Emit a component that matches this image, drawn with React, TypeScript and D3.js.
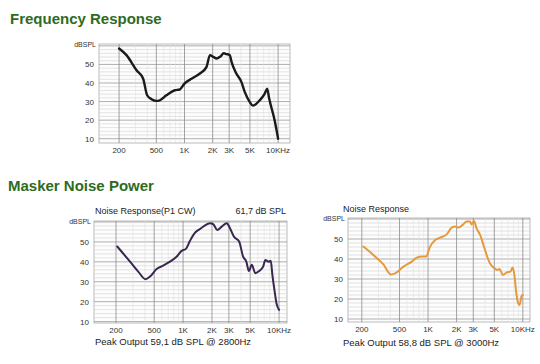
import { line, scaleLog, scaleLinear, curveMonotoneX } from "d3";

const freqTicks = [200, 500, 1000, 2000, 3000, 5000, 10000];
const freqLabels = ["200", "500", "1K", "2K", "3K", "5K", "10KHz"];
const dbTicks = [10, 20, 30, 40, 50];

// Frequency Response
const freq1 = [200, 240, 307, 361, 399, 444, 500, 544, 640, 787, 889, 1000, 1200, 1460, 1720, 1870, 2030, 2200, 2400, 2630, 2810, 3050, 3180, 3580, 4050, 4400, 4970, 5380, 6370, 7200, 7640, 8030, 9180, 10000];
const db1 = [58.6, 55, 46.9, 42.4, 33.4, 31.3, 30.4, 30.7, 33.4, 36.1, 36.5, 39.7, 42.4, 45.1, 48.7, 55, 54.1, 53.2, 54.1, 56, 55.6, 55, 51.4, 45.1, 40.6, 35.2, 29.8, 27.8, 30.7, 34.3, 37, 31.6, 19.9, 10];

// Noise Response (P1 CW)
const freq2 = [206, 280, 341, 406, 452, 530, 620, 730, 855, 966, 1070, 1170, 1320, 1490, 1680, 1900, 2060, 2270, 2530, 2850, 3080, 3380, 3840, 4220, 4560, 4850, 5200, 5660, 6200, 6830, 7200, 7770, 8200, 8520, 9000, 9400, 10000];
const db2 = [47.7, 40.1, 35.1, 31.3, 32.6, 36.4, 38.1, 40.1, 42.6, 45.5, 46.5, 50.2, 54.4, 56.4, 58.2, 59.4, 58.9, 56, 57.7, 59.4, 56.9, 52.7, 50.2, 42.6, 40.1, 35.4, 38.5, 34.3, 35.4, 37.6, 40.9, 40.1, 40.5, 33.4, 25.1, 19.2, 15.9];

// Noise Response
const freq3 = [208, 265, 338, 404, 450, 550, 673, 760, 860, 950, 1050, 1190, 1340, 1570, 1780, 1930, 2090, 2350, 2550, 2760, 2890, 3050, 3250, 3550, 3840, 4150, 4500, 4900, 5400, 5670, 6160, 6760, 7400, 7780, 8100, 8580, 8930, 9270, 9640, 10000];
const db3 = [46.2, 42, 37.3, 32.3, 32.8, 36.2, 38.7, 40.7, 41.2, 41.2, 46.2, 49.5, 50.7, 52.3, 55.7, 56.2, 55.7, 57.3, 58.7, 58.7, 57.3, 59, 55.3, 52, 47, 42, 37.8, 35.7, 34.5, 35, 32, 33.3, 33.7, 35.7, 32.8, 22, 17.8, 17, 21.2, 22];

const minorFreqs = [300, 400, 600, 700, 800, 900, 4000, 6000, 7000, 8000, 9000];
const dbGrid = [10, 12, 14, 16, 18, 20, 22, 24, 26, 28, 30, 32, 34, 36, 38, 40, 42, 44, 46, 48, 50, 52, 54, 56, 58, 60];

const FONT = "'Liberation Sans', Arial, sans-serif";

type ChartProps = {
  left: number;
  right: number;
  top: number;
  bottom: number;
  fDomain: [number, number];
  dbDomain: [number, number];
  freqs: number[];
  dbs: number[];
  color: string;
  width: number;
  showUnit?: boolean;
};

function ResponseChart(p: ChartProps) {
  const x = scaleLog().domain(p.fDomain).range([p.left, p.right]);
  const y = scaleLinear().domain(p.dbDomain).range([p.bottom, p.top]);
  const pts: [number, number][] = p.freqs.map((f, i) => [f, p.dbs[i]]);
  const path = line<[number, number]>()
    .x((d) => x(d[0]))
    .y((d) => y(d[1]))
    .curve(curveMonotoneX)(pts);

  return (
    <g>
      <rect x={p.left} y={p.top} width={p.right - p.left} height={p.bottom - p.top} fill="#fdfdfd" stroke="#aaa" strokeWidth={0.8} />
      {dbGrid.map((d) => (
        <line key={"h" + d} x1={p.left} x2={p.right} y1={y(d)} y2={y(d)} stroke={d % 10 === 0 ? "#9a9a9a" : "#d2d2d2"} strokeWidth={d % 10 === 0 ? 0.8 : 0.6} />
      ))}
      {minorFreqs.map((f) => (
        <line key={"m" + f} x1={x(f)} x2={x(f)} y1={p.top} y2={p.bottom} stroke="#dcdcdc" strokeWidth={0.5} />
      ))}
      {freqTicks.map((f) => (
        <line key={"v" + f} x1={x(f)} x2={x(f)} y1={p.top} y2={p.bottom} stroke="#8c8c8c" strokeWidth={0.8} />
      ))}
      {freqTicks.map((f, i) => (
        <text key={"t" + f} x={x(f)} y={p.bottom + 10} fontSize={8} fontFamily={FONT} fill="#333" textAnchor="middle">
          {freqLabels[i]}
        </text>
      ))}
      {dbTicks.map((d) => (
        <text key={"d" + d} x={p.left - 5} y={y(d) + 3} fontSize={8} fontFamily={FONT} fill="#333" textAnchor="end">
          {d}
        </text>
      ))}
      {p.showUnit !== false && (
        <text x={p.left - 3} y={p.top + 3} fontSize={7} fontFamily={FONT} fill="#333" textAnchor="end">
          dBSPL
        </text>
      )}
      <path d={path ?? ""} fill="none" stroke={p.color} strokeWidth={p.width} strokeLinejoin="round" strokeLinecap="round" />
    </g>
  );
}

export default function App() {
  return (
    <svg width={540} height={364} style={{ position: "absolute", left: 0, top: 0, background: "#fff" }}>
      <text x={10} y={24} fontSize={15} fontWeight="bold" fontFamily={FONT} fill="#2e6b1e">
        Frequency Response
      </text>
      <text x={8} y={191} fontSize={15} fontWeight="bold" fontFamily={FONT} fill="#2e6b1e">
        Masker Noise Power
      </text>

      <ResponseChart left={99} right={290} top={44} bottom={143} fDomain={[122, 13400]} dbDomain={[7.7, 61]} freqs={freq1} dbs={db1} color="#1a1a1a" width={2.4} />

      <text x={95} y={214} fontSize={9} fontFamily={FONT} fill="#222">Noise Response(P1 CW)</text>
      <text x={286} y={214} fontSize={9} fontFamily={FONT} fill="#222" textAnchor="end">61,7 dB SPL</text>
      <ResponseChart left={94} right={287} top={221} bottom={323} fDomain={[118, 12100]} dbDomain={[9.3, 60.5]} freqs={freq2} dbs={db2} color="#3a2750" width={2} />
      <text x={95} y={345} fontSize={9.5} fontFamily={FONT} fill="#222">Peak Output 59,1 dB SPL @ 2800Hz</text>

      <text x={343} y={212} fontSize={9} fontFamily={FONT} fill="#222">Noise Response</text>
      <ResponseChart left={348} right={530} top={218} bottom={322} fDomain={[143, 11900]} dbDomain={[8.5, 60.5]} freqs={freq3} dbs={db3} color="#e49a3c" width={2} />
      <text x={343} y={346} fontSize={9.5} fontFamily={FONT} fill="#222">Peak Output 58,8 dB SPL @ 3000Hz</text>
    </svg>
  );
}
